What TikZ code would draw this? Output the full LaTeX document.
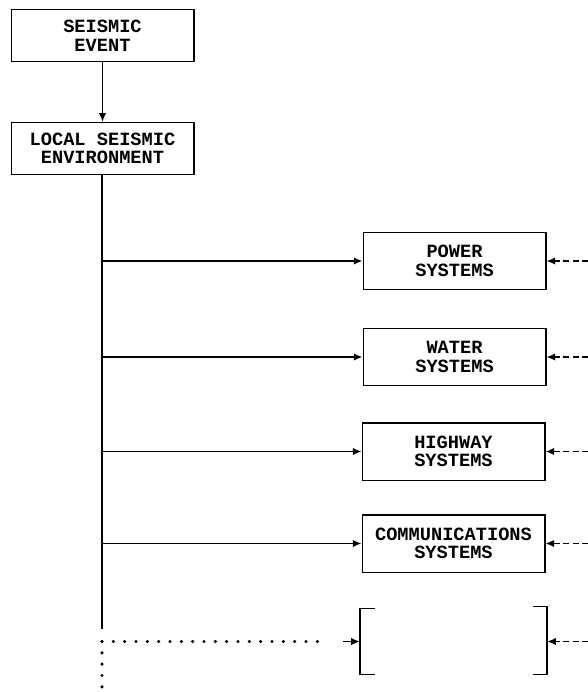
\documentclass[tikz,border=0pt]{standalone}
\usepackage{fontspec}
\setmonofont{Liberation Mono}
\usetikzlibrary{arrows.meta,positioning,calc}
\tikzset{
  block/.style      = {draw, line width=1pt, minimum width=137pt, minimum height=42pt,
                       inner sep=2pt, align=center},
  sig/.style        = {-{Latex[length=6.5pt,width=5.5pt]}, line width=1.1pt},
  fbk/.style        = {-{Latex[length=6.5pt,width=5.5pt]}, line width=1.1pt, dash pattern=on 4.5pt off 2.5pt},
  dots/.style       = {line width=2.6pt, line cap=round, dash pattern=on 0pt off 8.5pt},
  wire/.style       = {line width=1.1pt},
  every node/.style = {font=\ttfamily\bfseries\fontsize{14}{14}\selectfont},
}
\begin{document}
\begin{tikzpicture}[x=0.75pt,y=-0.75pt]
  \useasboundingbox (0,0) rectangle (588,692);
  % event chain
  \node[block, minimum height=39pt] (event) at (102.5,35.5) {SEISMIC\\EVENT};
  \node[block, minimum height=39pt] (local) at (102.5,148.5) {LOCAL SEISMIC\\ENVIRONMENT};
  \draw[sig] (event) -- (local);
  % lifeline systems
  \node[block, minimum height=43pt] (power) at (454.5,261) {POWER\\SYSTEMS};
  \node[block, minimum height=43pt] (water) at (454.5,357) {WATER\\SYSTEMS};
  \node[block, minimum height=43pt] (highway) at (453.5,451.5) {HIGHWAY\\SYSTEMS};
  \node[block, minimum height=43pt] (comm) at (453.5,543.5) {COMMUNICATIONS\\SYSTEMS};
  \node[minimum width=140pt, minimum height=49pt] (other) at (453.5,641.5) {};
  \draw[wire] ($(other.north west)+(15,0)$) -| (other.south west) -- ++(15,0);
  \draw[wire] ($(other.north east)+(-14,-2)$) -- ++(14,0) |- ($(other.south east)+(-14,0)$);
  % trunk
  \coordinate (spine) at (102,629);
  \coordinate (edge) at (588,0);
  \draw[wire] (local.south -| spine) -- (spine);
  \foreach \sys in {power,water,highway,comm}{
    \draw[sig] (spine |- \sys.west) -- (\sys.west);
    \draw[fbk] (edge |- \sys.east) -- (\sys.east);
  }
  \draw[dots] (spine |- other.west) -- (326,641.5);
  \draw[dots] (spine |- other.west) -- (102,692);
  \draw[sig] (343,641.5) -- (other.west);
  \draw[fbk] (edge |- other.east) -- (other.east);
\end{tikzpicture}
\end{document}
